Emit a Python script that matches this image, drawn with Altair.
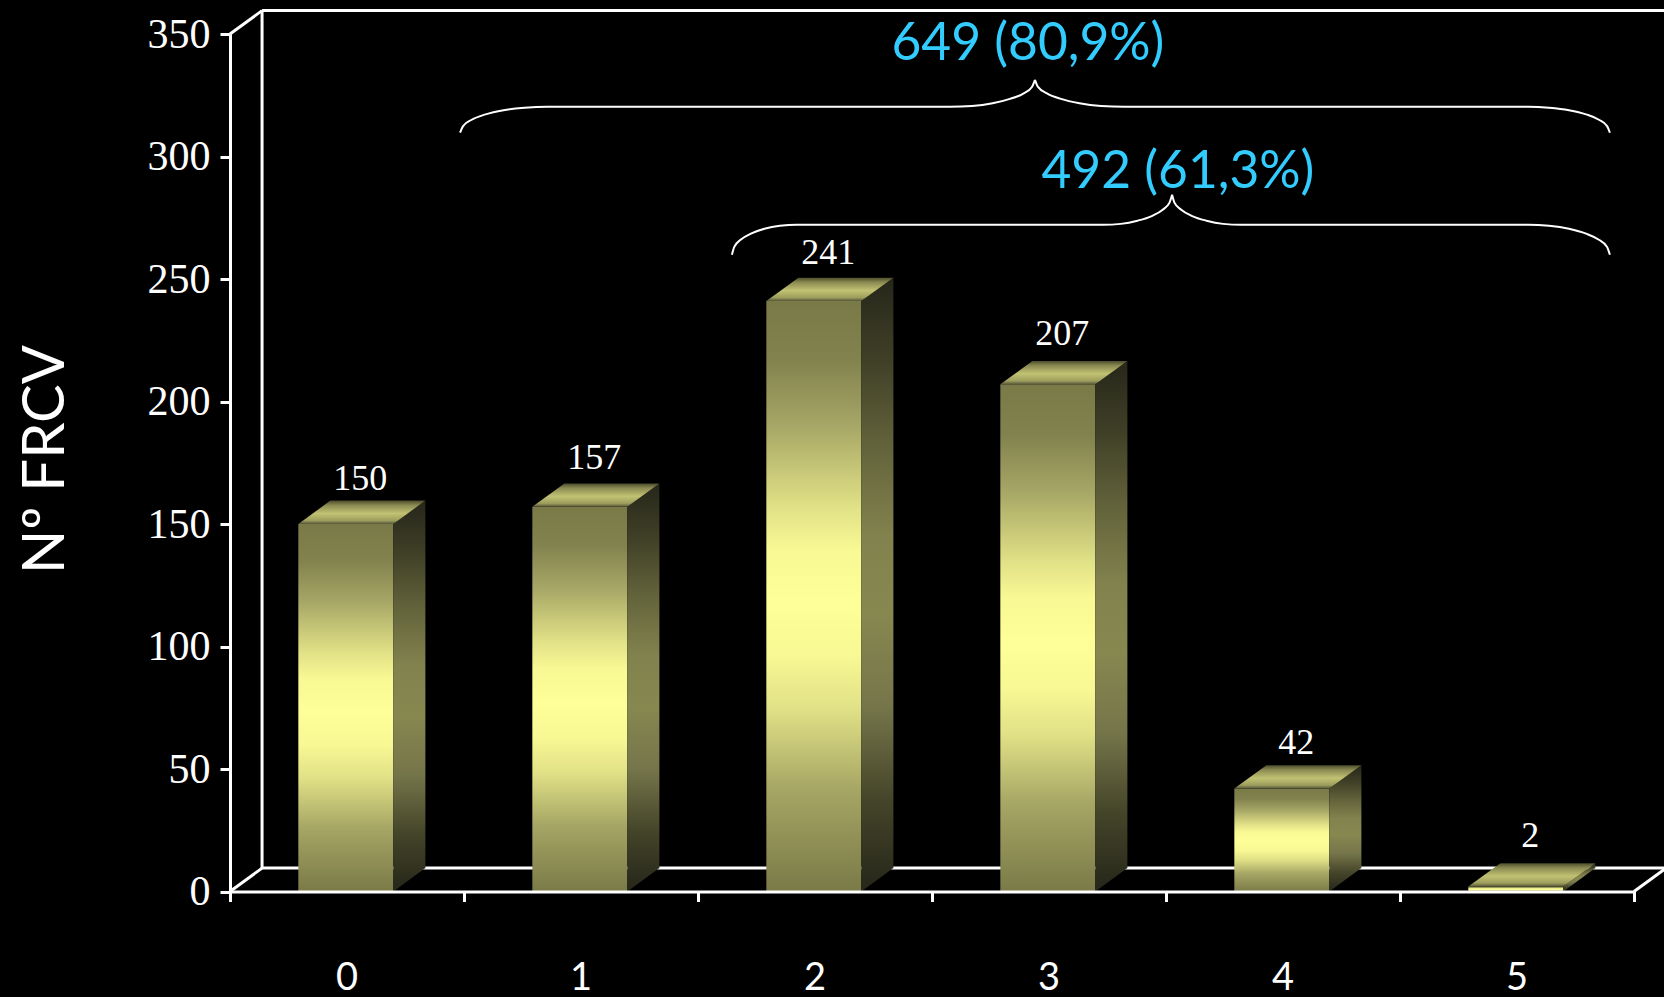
import altair as alt
import pandas as pd

# Number of cardiovascular risk factors per patient
categories = [0, 1, 2, 3, 4, 5]
counts = [150, 157, 241, 207, 42, 2]

y_ticks = [0, 50, 100, 150, 200, 250, 300, 350]
x_ticks = [0, 1, 2, 3, 4, 5, 6]
Y_MAX = 350
X_MAX = 6

# Extent of the oblique projection, in axis units
DEPTH_X = 0.137
DEPTH_Y = 9.55
BAR_LO = 0.292
BAR_HI = 0.698
label_gaps = [4.5, 5.8, 5.5, 6.5, 4.5, 6.5]

# Brace outlines, in axis units (category position, count); each half ends at the cusp
brace_649_left_x = [0.983, 0.996, 1.033, 1.092, 1.169, 1.259, 1.355,
                    3.077, 3.171, 3.259, 3.333, 3.392, 3.427, 3.440]
brace_649_left_y = [309.7, 312.4, 315.0, 317.2, 318.9, 319.9, 320.3,
                    320.3, 320.6, 321.7, 323.5, 325.8, 328.4, 331.3]
brace_649_right_x = [3.440, 3.453, 3.491, 3.551, 3.630, 3.722, 3.821,
                     5.547, 5.637, 5.722, 5.795, 5.850, 5.885, 5.897]
brace_649_right_y = [331.3, 328.4, 325.8, 323.5, 321.7, 320.6, 320.3,
                     320.3, 319.9, 318.9, 317.2, 315.0, 312.4, 309.7]
brace_492_left_x = [2.145, 2.155, 2.182, 2.226, 2.284, 2.350, 2.423,
                    3.731, 3.807, 3.878, 3.939, 3.986, 4.015, 4.026]
brace_492_left_y = [259.9, 263.1, 266.0, 268.5, 270.5, 271.7, 272.1,
                    272.1, 272.5, 273.8, 275.7, 278.3, 281.2, 284.4]
brace_492_right_x = [4.026, 4.036, 4.065, 4.112, 4.173, 4.244, 4.321,
                     5.547, 5.637, 5.722, 5.795, 5.850, 5.885, 5.897]
brace_492_right_y = [284.4, 281.2, 278.3, 275.7, 273.8, 272.5, 272.1,
                     272.1, 271.7, 270.5, 268.5, 266.0, 263.1, 259.9]

callout_text = ["649 (80,9%)", "492 (61,3%)"]
callout_x = [3.41, 4.051]
callout_y = [339.5, 287.2]

WHITE = "#ffffff"
CYAN = "#33ccff"
SERIF = "Liberation Serif"
SANS = "Lato"
LINE = 3

x_scale = alt.Scale(domain=[0, X_MAX], nice=False, zero=False)
y_scale = alt.Scale(domain=[0, Y_MAX], nice=False)


def vertical_gradient(*stops):
    return alt.Gradient(
        gradient="linear",
        x1=0, x2=0, y1=0, y2=1,
        stops=[alt.GradientStop(offset=o, color=c) for o, c in stops],
    )


front_fill = vertical_gradient(
    (0, "#7a7a48"), (0.1, "#82824e"), (0.21, "#a6a666"), (0.28, "#c4c476"),
    (0.35, "#e1e187"), (0.42, "#f8f894"), (0.51, "#ffff99"), (0.6, "#f8f894"),
    (0.69, "#e1e187"), (0.83, "#a5a564"), (1, "#7a7a48"),
)
side_fill = vertical_gradient(
    (0, "#26261a"), (0.14, "#414128"), (0.28, "#64643c"), (0.42, "#82824e"),
    (0.55, "#878750"), (0.7, "#75754a"), (0.85, "#45452a"), (1, "#26261a"),
)
top_fill = vertical_gradient(
    (0, "#4c4c2c"), (0.2, "#8a8a52"), (0.55, "#c2c273"), (0.85, "#9e9e5e"), (1, "#55553a"),
)

bars = pd.DataFrame({"cat": categories, "count": counts, "gap": label_gaps})
bars["lo"] = bars["cat"] + BAR_LO
bars["hi"] = bars["cat"] + BAR_HI
bars["mid"] = bars["cat"] + 0.5
bars["label_x"] = bars["mid"] + DEPTH_X / 2 - 0.012
bars["label_y"] = bars["count"] + DEPTH_Y + bars["gap"]

# Side faces: two vertical edges per bar
side_rows = []
for c, v in zip(categories, counts):
    side_rows.append({"cat": c, "x": c + BAR_HI, "low": 0, "high": v})
    side_rows.append({"cat": c, "x": c + BAR_HI + DEPTH_X, "low": DEPTH_Y, "high": v + DEPTH_Y})
side_df = pd.DataFrame(side_rows)

# Top faces: two horizontal edges per bar
top_rows = []
for c, v in zip(categories, counts):
    top_rows.append({"cat": c, "y": v, "left": c + BAR_LO, "right": c + BAR_HI})
    top_rows.append({"cat": c, "y": v + DEPTH_Y, "left": c + BAR_LO + DEPTH_X, "right": c + BAR_HI + DEPTH_X})
top_df = pd.DataFrame(top_rows)

# Back wall, ceiling edge and the oblique edges joining them to the axes
wall_df = pd.DataFrame({
    "x": [DEPTH_X, DEPTH_X, 0, 0, X_MAX],
    "x2": [DEPTH_X, X_MAX + 2 * DEPTH_X, DEPTH_X, DEPTH_X, X_MAX + DEPTH_X],
    "y": [DEPTH_Y, Y_MAX + DEPTH_Y, 0, Y_MAX, 0],
    "y2": [Y_MAX + DEPTH_Y, Y_MAX + DEPTH_Y, DEPTH_Y, Y_MAX + DEPTH_Y, DEPTH_Y],
})
floor_df = pd.DataFrame({"x": [DEPTH_X], "x2": [X_MAX + DEPTH_X], "y": [DEPTH_Y]})

brace_df = pd.concat([
    pd.DataFrame({"part": "a", "x": brace_649_left_x, "y": brace_649_left_y}),
    pd.DataFrame({"part": "b", "x": brace_649_right_x, "y": brace_649_right_y}),
    pd.DataFrame({"part": "c", "x": brace_492_left_x, "y": brace_492_left_y}),
    pd.DataFrame({"part": "d", "x": brace_492_right_x, "y": brace_492_right_y}),
], ignore_index=True)
brace_df["order"] = brace_df.index

callouts = pd.DataFrame({"text": callout_text, "x": callout_x, "y": callout_y})

x_enc = alt.X(
    "x:Q", scale=x_scale, title=None,
    axis=alt.Axis(
        values=x_ticks, labels=False, grid=False, zindex=1,
        domainColor=WHITE, domainWidth=LINE, tickColor=WHITE, tickWidth=LINE, tickSize=10,
    ),
)
y_enc = alt.Y(
    "y:Q", scale=y_scale, title="Nº FRCV",
    axis=alt.Axis(
        values=y_ticks, grid=False, zindex=1,
        domainColor=WHITE, domainWidth=LINE, tickColor=WHITE, tickWidth=LINE, tickSize=10,
        labelColor=WHITE, labelFont=SERIF, labelFontSize=42, labelPadding=10,
        titleColor=WHITE, titleFont=SANS, titleFontSize=58, titleFontWeight="normal",
        titleX=-167, titleY=425, titleBaseline="alphabetic",
    ),
)

walls = alt.Chart(wall_df).mark_rule(color=WHITE, strokeWidth=LINE).encode(
    x=x_enc, x2="x2:Q", y=y_enc, y2="y2:Q"
)
floor = alt.Chart(floor_df).mark_rule(color=WHITE, strokeWidth=LINE).encode(
    x=alt.X("x:Q", scale=x_scale), x2=alt.X2("x2:Q"), y=alt.Y("y:Q", scale=y_scale)
)

front = alt.Chart(bars).mark_rect(color=front_fill).encode(
    x=alt.X("lo:Q", scale=x_scale), x2="hi:Q",
    y=alt.Y("count:Q", scale=y_scale), y2=alt.datum(0),
)
side = alt.Chart(side_df).mark_area(color=side_fill, interpolate="linear").encode(
    x=alt.X("x:Q", scale=x_scale),
    y=alt.Y("low:Q", scale=y_scale), y2="high:Q",
    detail="cat:N",
)
top = alt.Chart(top_df).mark_area(color=top_fill, orient="horizontal", interpolate="linear").encode(
    y=alt.Y("y:Q", scale=y_scale),
    x=alt.X("left:Q", scale=x_scale), x2="right:Q",
    detail="cat:N",
)

value_labels = alt.Chart(bars).mark_text(
    color=WHITE, font=SERIF, fontSize=36, baseline="alphabetic"
).encode(
    x=alt.X("label_x:Q", scale=x_scale),
    y=alt.Y("label_y:Q", scale=y_scale),
    text="count:Q",
)
category_labels = alt.Chart(bars).mark_text(
    color=WHITE, font=SANS, fontSize=38, baseline="alphabetic"
).encode(
    x=alt.X("mid:Q", scale=x_scale),
    y=alt.value(956),
    text="cat:N",
)

braces = alt.Chart(brace_df).mark_line(
    color=WHITE, strokeWidth=2, interpolate="monotone"
).encode(
    x=alt.X("x:Q", scale=x_scale),
    y=alt.Y("y:Q", scale=y_scale),
    detail="part:N",
    order="order:Q",
)
callout_labels = alt.Chart(callouts).mark_text(
    color=CYAN, font=SANS, fontSize=51.5, baseline="alphabetic"
).encode(
    x=alt.X("x:Q", scale=x_scale),
    y=alt.Y("y:Q", scale=y_scale),
    text="text:N",
)

chart = alt.layer(
    walls, floor, front, side, top, braces, value_labels, category_labels, callout_labels
).properties(
    width=1404,
    height=857.5,
    background="#000000",
    padding={"left": 230, "top": 34, "right": 30, "bottom": 105},
    autosize=alt.AutoSizeParams(type="none"),
).configure_view(stroke=None, clip=False)

chart.save("out.html", embed_options={"renderer": "svg", "actions": False})
